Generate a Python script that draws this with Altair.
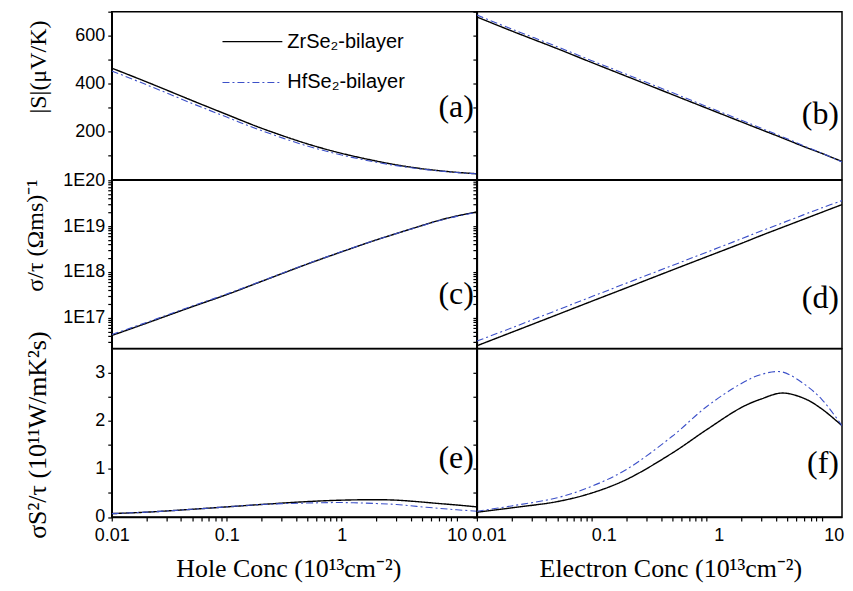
import altair as alt
import pandas as pd

# ---------------- data ----------------
conc = [0.01, 0.02, 0.05, 0.1, 0.2, 0.5, 1, 2, 3, 4.5, 7, 10, 15]
series = ["ZrSe\u2082-bilayer", "HfSe\u2082-bilayer"]

S_hole_Zr = [465, 408, 330, 272, 215, 150, 110, 78, 62, 49, 38, 31, 25]
S_hole_Hf = [453, 396, 318, 261, 205, 141, 103, 73, 59, 47, 37, 30, 25]
S_elec_Zr = [678, 620, 546, 488, 431, 355, 298, 241, 208, 175, 138, 110, 76]
S_elec_Hf = [686, 628, 554, 496, 439, 363, 305, 248, 214, 180, 141, 111, 74]

sig_hole_Zr = [4.1e16, 7.6e16, 1.74e17, 3.2e17, 6.2e17, 1.48e18, 2.75e18, 5.0e18, 6.9e18, 9.5e18, 1.33e19, 1.66e19, 2.04e19]
sig_hole_Hf = [4.3e16, 7.9e16, 1.8e17, 3.3e17, 6.3e17, 1.5e18, 2.78e18, 5.0e18, 6.9e18, 9.4e18, 1.31e19, 1.63e19, 2.0e19]
sig_elec_Zr = [2.45e16, 4.8e16, 1.17e17, 2.3e17, 4.5e17, 1.1e18, 2.15e18, 4.2e18, 6.3e18, 9.3e18, 1.42e19, 2.0e19, 2.95e19]
sig_elec_Hf = [3.1e16, 6.0e16, 1.47e17, 2.9e17, 5.7e17, 1.38e18, 2.7e18, 5.3e18, 7.9e18, 1.16e19, 1.78e19, 2.5e19, 3.6e19]

PF_hole_Zr = [0.07, 0.10, 0.16, 0.21, 0.26, 0.32, 0.35, 0.36, 0.35, 0.32, 0.28, 0.25, 0.21]
PF_hole_Hf = [0.07, 0.10, 0.16, 0.21, 0.26, 0.29, 0.30, 0.28, 0.26, 0.22, 0.18, 0.15, 0.12]
PF_elec_Zr = [0.10, 0.19, 0.32, 0.50, 0.78, 1.33, 1.82, 2.28, 2.46, 2.58, 2.47, 2.25, 1.90]
PF_elec_Hf = [0.12, 0.23, 0.40, 0.64, 0.99, 1.68, 2.30, 2.78, 2.97, 3.02, 2.77, 2.45, 1.90]

x_ticks = [k * 10.0 ** e for e in (-2, -1, 0) for k in range(1, 10)] + [10.0]
S_ticks = [100, 200, 300, 400, 500, 600, 700]
sig_ticks = [k * 10.0 ** e for e in (16, 17, 18, 19) for k in range(1, 10) if k * 10.0 ** e >= 2.2e16] + [1e20]
PF_ticks = [0, 0.5, 1, 1.5, 2, 2.5, 3]

panel_labels = ["(a)", "(b)", "(c)", "(d)", "(e)", "(f)"]

# ---------------- layout constants ----------------
W, H = 366, 168.5
BLUE = "#3c50c8"
MAJ_LOG = "abs(log(datum.value)/LN10 - round(log(datum.value)/LN10)) < 0.000001"


def label_size(test):
    return {"condition": {"test": test, "value": 18}, "value": 0}


def make_df(a, b):
    rows = []
    for s, vals in zip(series, (a, b)):
        for c, v in zip(conc, vals):
            rows.append({"conc": c, "val": v, "series": s})
    return pd.DataFrame(rows)


def panel(zr, hf, yscale, yaxis, xaxis, label, label_y, legend=None):
    df = make_df(zr, hf)
    xenc = alt.X("conc:Q", scale=alt.Scale(type="log", domain=[0.01, 15], nice=False),
                 axis=xaxis)
    yenc = alt.Y("val:Q", scale=yscale, axis=yaxis)
    lines = alt.Chart(df).mark_line(interpolate="catmull-rom", clip=True).encode(
        x=xenc,
        y=yenc,
        color=alt.Color("series:N", scale=alt.Scale(domain=series, range=["black", BLUE]),
                        legend=legend),
        strokeDash=alt.StrokeDash("series:N",
                                  scale=alt.Scale(domain=series, range=[[1, 0], [7, 3, 2, 3]]),
                                  legend=legend),
        strokeWidth=alt.StrokeWidth("series:N",
                                    scale=alt.Scale(domain=series, range=[1.4, 1.1]),
                                    legend=None),
    )
    txt = alt.Chart(pd.DataFrame({"lab": [label]})).mark_text(
        font="Liberation Serif", fontSize=32, align="right", baseline="alphabetic", color="black"
    ).encode(x=alt.value(W - 3), y=alt.value(label_y), text="lab:N")
    return alt.layer(lines, txt).resolve_scale(
        color="independent", strokeDash="independent", strokeWidth="independent"
    ).properties(width=W, height=H)


def yaxis_left(values, test, label_expr, title, title_x, title_y, title_size=24):
    return alt.Axis(values=values, labelExpr=label_expr, ticks=True, tickSize=4,
                    labelFontSize=label_size(test),
                    labelPadding=3, title=title, titleX=title_x, titleY=title_y,
                    titleFontSize=title_size, grid=False,
                    labelOverlap=False, labelFlush=False)


def yaxis_right(values):
    return alt.Axis(values=values, labels=False, ticks=True, tickSize=4, title=None, grid=False)


def xaxis_bottom(title, offset, title_x):
    return alt.Axis(values=x_ticks, labelExpr=f"{MAJ_LOG} ? format(datum.value, '~g') : ''",
                    ticks=True, tickSize=4, labelFontSize=label_size(MAJ_LOG),
                    labelPadding=6, labelOffset=offset,
                    labelFlush=False, labelOverlap=False, title=title, titlePadding=11,
                    titleFontSize=26, titleX=title_x, grid=False)


S_scale = alt.Scale(domain=[0, 700], nice=False, zero=False)
sig_scale = alt.Scale(type="log", domain=[2.15e16, 1e20], nice=False)
PF_scale = alt.Scale(domain=[0, 3.5], nice=False, zero=False)

S_test = "datum.value % 200 == 0"
PF_test = "datum.value % 1 == 0"

legend = alt.Legend(orient="none", legendX=110, legendY=-1, title=None, symbolType="stroke",
                    symbolSize=3600, symbolStrokeWidth=1.4, labelFont="Liberation Sans",
                    labelFontSize=20, labelOffset=4, rowPadding=-26, padding=0,
                    labelColor="black", labelLimit=300)

pa = panel(S_hole_Zr, S_hole_Hf, S_scale,
           yaxis_left(S_ticks, S_test, f"{S_test} ? datum.label : ''", "|S|(\u03bcV/K)", -61, 55),
           None, panel_labels[0], 106, legend)
pb = panel(S_elec_Zr, S_elec_Hf, S_scale, yaxis_right(S_ticks), None, panel_labels[1], 113)
pc = panel(sig_hole_Zr, sig_hole_Hf, sig_scale,
           yaxis_left(sig_ticks, MAJ_LOG, f"{MAJ_LOG} ? '1E' + round(log(datum.value)/LN10) : ''",
                      "\u03c3/\u03c4 (\u03a9ms)\u207b\u00b9", -64, 55),
           None, panel_labels[2], 124)
pd_ = panel(sig_elec_Zr, sig_elec_Hf, sig_scale, yaxis_right(sig_ticks), None, panel_labels[3], 128)
pe = panel(PF_hole_Zr, PF_hole_Hf, PF_scale,
           yaxis_left(PF_ticks, PF_test, f"{PF_test} ? format(datum.value, '~g') : ''",
                      "\u03c3S\u00b2/\u03c4 (10\u00b9\u00b9W/mK\u00b2s)", -61, 86, 26),
           xaxis_bottom("Hole Conc (10\u00b9\u00b3cm\u207b\u00b2)", 0, 177), panel_labels[4], 119)
pf = panel(PF_elec_Zr, PF_elec_Hf, PF_scale, yaxis_right(PF_ticks),
           xaxis_bottom("Electron Conc (10\u00b9\u00b3cm\u207b\u00b2)", 12, 194), panel_labels[5], 124)

chart = alt.concat(pa, pb, pc, pd_, pe, pf, columns=2, spacing=0, bounds="flush").properties(
    padding={"left": 15, "top": 1, "right": 0, "bottom": 2},
    background="white",
).configure_view(stroke="black", strokeWidth=1.5).configure_axis(
    domainColor="black", domainWidth=1.5, tickColor="black", tickWidth=1.2,
    labelFont="Liberation Sans", labelFontSize=18, labelColor="black",
    titleFont="Liberation Serif", titleFontSize=24, titleFontWeight="normal", titleColor="black",
)

chart.save("out.html", embed_options={"renderer": "svg", "actions": False})
